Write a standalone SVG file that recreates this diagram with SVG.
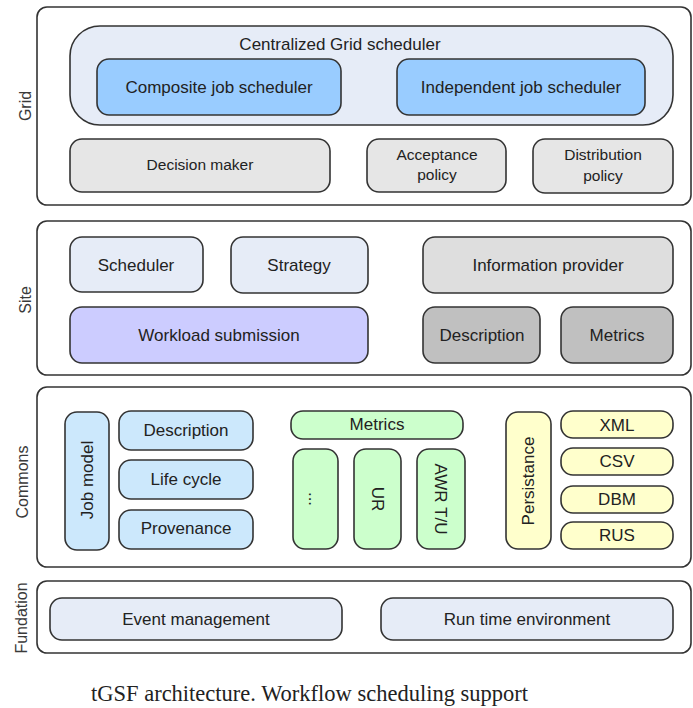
<svg xmlns="http://www.w3.org/2000/svg" width="693" height="708" viewBox="0 0 693 708">
<style>
.layer{fill:#ffffff;stroke:#333;stroke-width:1.6}
.bx{stroke:#333;stroke-width:1.6}
.t{font-family:"Liberation Sans",Arial,sans-serif;font-size:17px;fill:#222;text-anchor:middle}
.s{font-size:15.5px}
.side{font-family:"Liberation Sans",Arial,sans-serif;font-size:16px;fill:#3a3a3a;text-anchor:middle}
.cap{font-family:"Liberation Serif","Times New Roman",serif;font-size:22.5px;fill:#222}
.lb{fill:#e6ecf7}.blue{fill:#99ccff}.gr{fill:#e6e6e6}.gr2{fill:#dedede}.gr3{fill:#c0c0c0}
.pur{fill:#ccccff}.cy{fill:#cce8fc}.grn{fill:#ccffcc}.yel{fill:#ffffcc}
</style>
<g id="layers">
<rect id="grid-layer" class="layer" x="37" y="7" width="654" height="198" rx="10"/>
<rect id="site-layer" class="layer" x="37" y="221" width="654" height="154" rx="10"/>
<rect id="commons-layer" class="layer" x="37" y="387" width="654" height="180" rx="10"/>
<rect id="fundation-layer" class="layer" x="37" y="581" width="654" height="72" rx="10"/>
<text class="side" transform="translate(25,106) rotate(-90)" dy="0.35em">Grid</text>
<text class="side" transform="translate(25,300) rotate(-90)" dy="0.35em">Site</text>
<text class="side" transform="translate(22,482) rotate(-90)" dy="0.35em">Commons</text>
<text class="side" transform="translate(21,618) rotate(-90)" dy="0.35em">Fundation</text>
</g>
<g id="centralized">
<rect class="bx lb" x="70" y="26" width="603" height="99" rx="30"/>
<text class="t" x="340" y="44" dy="0.35em">Centralized Grid scheduler</text>
</g>
<g id="composite"><rect class="bx blue" x="97" y="59" width="244" height="56" rx="12"/><text class="t" x="219" y="87" dy="0.35em">Composite job scheduler</text></g>
<g id="independent"><rect class="bx blue" x="397" y="59" width="248" height="56" rx="12"/><text class="t" x="521" y="87" dy="0.35em">Independent job scheduler</text></g>
<g id="decision"><rect class="bx gr" x="70" y="139" width="260" height="53" rx="12"/><text class="t s" x="200" y="165" dy="0.35em">Decision maker</text></g>
<g id="acceptance"><rect class="bx gr" x="367" y="139" width="139" height="53" rx="12"/><text class="t s" x="437" y="155" dy="0.35em">Acceptance</text><text class="t s" x="437" y="175" dy="0.35em">policy</text></g>
<g id="distribution"><rect class="bx gr" x="533" y="139" width="140" height="54" rx="12"/><text class="t s" x="603" y="155" dy="0.35em">Distribution</text><text class="t s" x="603" y="176" dy="0.35em">policy</text></g>
<g id="scheduler"><rect class="bx lb" x="70" y="237" width="133" height="55" rx="12"/><text class="t" x="136" y="265" dy="0.35em">Scheduler</text></g>
<g id="strategy"><rect class="bx lb" x="231" y="237" width="137" height="56" rx="12"/><text class="t" x="299" y="265" dy="0.35em">Strategy</text></g>
<g id="infoprovider"><rect class="bx gr2" x="423" y="237" width="250" height="56" rx="12"/><text class="t" x="548" y="265" dy="0.35em">Information provider</text></g>
<g id="workload"><rect class="bx pur" x="70" y="307" width="298" height="56" rx="12"/><text class="t" x="219" y="335" dy="0.35em">Workload submission</text></g>
<g id="site-description"><rect class="bx gr3" x="423" y="307" width="117" height="56" rx="12"/><text class="t" x="482" y="335" dy="0.35em">Description</text></g>
<g id="site-metrics"><rect class="bx gr3" x="561" y="307" width="112" height="56" rx="12"/><text class="t" x="617" y="335" dy="0.35em">Metrics</text></g>
<g id="jobmodel"><rect class="bx cy" x="65" y="412" width="44" height="138" rx="12"/><text class="t" transform="translate(87,480) rotate(-90)" dy="0.35em">Job model</text></g>
<g id="jm-description"><rect class="bx cy" x="119" y="411" width="134" height="39" rx="12"/><text class="t" x="186" y="430" dy="0.35em">Description</text></g>
<g id="lifecycle"><rect class="bx cy" x="119" y="460" width="134" height="39" rx="12"/><text class="t" x="186" y="479" dy="0.35em">Life cycle</text></g>
<g id="provenance"><rect class="bx cy" x="119" y="510" width="134" height="39" rx="12"/><text class="t" x="186" y="528" dy="0.35em">Provenance</text></g>
<g id="metrics"><rect class="bx grn" x="291" y="411" width="172" height="28" rx="12"/><text class="t" x="377" y="424" dy="0.35em">Metrics</text></g>
<g id="metrics-more"><rect class="bx grn" x="293" y="449" width="45" height="100" rx="12"/><text class="t" transform="translate(315,499) rotate(90)" dy="0.35em">...</text></g>
<g id="ur"><rect class="bx grn" x="354" y="449" width="47" height="100" rx="12"/><text class="t" transform="translate(378,499) rotate(90)" dy="0.35em">UR</text></g>
<g id="awrtu"><rect class="bx grn" x="417" y="449" width="48" height="100" rx="12"/><text class="t" transform="translate(441,499) rotate(90)" dy="0.35em">AWR T/U</text></g>
<g id="persistance"><rect class="bx yel" x="506" y="412" width="45" height="137" rx="12"/><text class="t" transform="translate(528,481) rotate(-90)" dy="0.35em">Persistance</text></g>
<g id="xml"><rect class="bx yel" x="561" y="411" width="112" height="27" rx="12"/><text class="t" x="617" y="425" dy="0.35em">XML</text></g>
<g id="csv"><rect class="bx yel" x="561" y="448" width="112" height="27" rx="12"/><text class="t" x="617" y="461" dy="0.35em">CSV</text></g>
<g id="dbm"><rect class="bx yel" x="561" y="486" width="112" height="27" rx="12"/><text class="t" x="617" y="499" dy="0.35em">DBM</text></g>
<g id="rus"><rect class="bx yel" x="561" y="522" width="112" height="27" rx="12"/><text class="t" x="617" y="535" dy="0.35em">RUS</text></g>
<g id="event"><rect class="bx lb" x="50" y="598" width="292" height="42" rx="12"/><text class="t" x="196" y="619" dy="0.35em">Event management</text></g>
<g id="runtime"><rect class="bx lb" x="381" y="598" width="292" height="42" rx="12"/><text class="t" x="527" y="619" dy="0.35em">Run time environment</text></g>
<g id="connectors"></g>
<text class="cap" x="91" y="701">tGSF architecture. Workflow scheduling support</text>
</svg>
